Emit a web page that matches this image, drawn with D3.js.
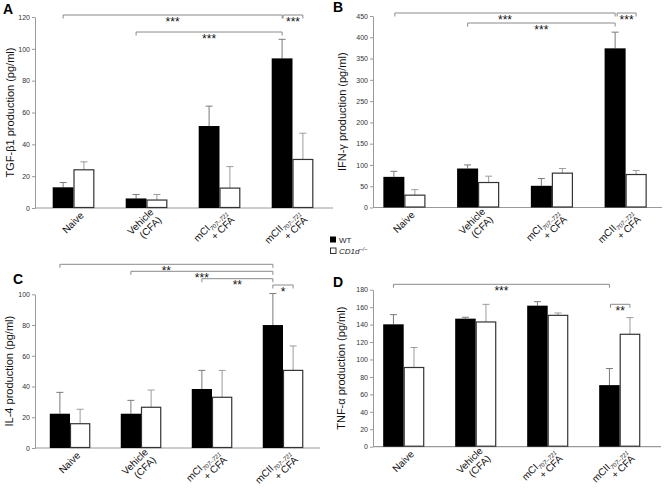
<!DOCTYPE html>
<html><head><meta charset="utf-8">
<script src="https://cdn.jsdelivr.net/npm/d3@7"></script>
<style>
body{margin:0;background:#fff}
svg{font-family:"Liberation Sans",Arial,Helvetica,sans-serif}
</style>
</head><body>
<svg id="chart" width="666" height="494"></svg>
<script>
// ---- data ----
const catMain = ["Naive", "Vehicle", "mCI", "mCII"];
const catSub = ["", "", "707–721", "707–721"];
const catLine2 = ["", "(CFA)", "+ CFA", "+ CFA"];
const seriesNames = ["WT", "CD1d"];

const tgfWT = [13, 6, 51.5, 94];
const tgfWTErr = [3, 2.5, 12.5, 12];
const tgfKO = [24, 5, 12.5, 30.5];
const tgfKOErr = [5, 3.5, 13.5, 16.5];
const tgfTicks = [0, 20, 40, 60, 80, 100, 120];

const ifnWT = [72, 91.6, 51, 374];
const ifnWTErr = [13, 8.4, 17, 38];
const ifnKO = [29, 58.7, 80.7, 77.5];
const ifnKOErr = [13, 14.9, 10.9, 9.5];
const ifnTicks = [0, 50, 100, 150, 200, 250, 300, 350, 400, 450];

const il4WT = [22.3, 22.3, 38.4, 80];
const il4WTErr = [13.9, 8.7, 12.1, 20.5];
const il4KO = [15.8, 26.5, 33, 50.5];
const il4KOErr = [9.4, 11.2, 17.5, 15.9];
const il4Ticks = [0, 20, 40, 60, 80, 100];

const tnfWT = [140.3, 146.8, 161.7, 70.6];
const tnfWTErr = [11.1, 1.6, 4.6, 19];
const tnfKO = [90.8, 143, 150.6, 128.9];
const tnfKOErr = [22.9, 20.2, 2.7, 19.1];
const tnfTicks = [0, 20, 40, 60, 80, 100, 120, 140, 160, 180];

// significance brackets: [group, series] -> [group, series]
const tgfSig = [{a:[0,0], b:[3,0], label:"***"}, {a:[3,0], b:[3,1], label:"***"}, {a:[1,0], b:[3,0], label:"***"}];
const ifnSig = [{a:[0,0], b:[3,0], label:"***"}, {a:[3,0], b:[3,1], label:"***"}, {a:[1,0], b:[3,0], label:"***"}];
const il4Sig = [{a:[0,0], b:[3,0], label:"**"}, {a:[1,0], b:[3,0], label:"***"}, {a:[2,0], b:[3,0], label:"**"}, {a:[3,0], b:[3,1], label:"*"}];
const tnfSig = [{a:[0,0], b:[3,0], label:"***"}, {a:[3,0], b:[3,1], label:"**"}];

// ---- layout ----
const panels = [
  {letter:"A", title:"TGF-β1 production (pg/ml)", wt:tgfWT, wtE:tgfWTErr, ko:tgfKO, koE:tgfKOErr, ticks:tgfTicks, sig:tgfSig,
   L:{axisX:35, xEnd:333, band:[37,329], y0:208, y1:17, titleX:14, letter:[3,14], levels:[15,15,32], inset:[0,1,0]}},
  {letter:"B", title:"IFN-γ production (pg/ml)", wt:ifnWT, wtE:ifnWTErr, ko:ifnKO, koE:ifnKOErr, ticks:ifnTicks, sig:ifnSig,
   L:{axisX:373, xEnd:662, band:[367.5,662.5], y0:207.5, y1:16, titleX:346, letter:[333,12], levels:[13,13,23], inset:[1,2,0]}},
  {letter:"C", title:"IL-4 production (pg/ml)", wt:il4WT, wtE:il4WTErr, ko:il4KO, koE:il4KOErr, ticks:il4Ticks, sig:il4Sig,
   L:{axisX:35, xEnd:320, band:[34.5,318.5], y0:448, y1:294.3, titleX:13, letter:[13,284], levels:[264.3,271.3,278.7,285], inset:[0,0,0,0]}},
  {letter:"D", title:"TNF-α production (pg/ml)", wt:tnfWT, wtE:tnfWTErr, ko:tnfKO, koE:tnfKOErr, ticks:tnfTicks, sig:tnfSig,
   L:{axisX:373, xEnd:661, band:[367.7,655.7], y0:446.7, y1:289.7, titleX:345, letter:[333,287], levels:[284.3,304.3], inset:[0,1]}}
];

const svg = d3.select("#chart");
const AXIS = "#9a9a9a";

panels.forEach(p => {
  const L = p.L;
  const g = svg.append("g");
  const x = d3.scaleBand().domain(d3.range(catMain.length)).range(L.band).paddingInner(0.43).paddingOuter(0.215);
  const xs = d3.scaleBand().domain([0, 1]).range([0, x.bandwidth()]);
  const y = d3.scaleLinear().domain([0, d3.max(p.ticks)]).range([L.y0, L.y1]);

  // y axis
  const ax = g.append("g").attr("transform", `translate(${L.axisX},0)`)
    .call(d3.axisLeft(y).tickValues(p.ticks).tickSize(3).tickSizeOuter(0).tickPadding(2));
  ax.select(".domain").attr("stroke", AXIS);
  ax.selectAll(".tick line").attr("stroke", AXIS);
  ax.selectAll(".tick text").attr("fill", "#333").attr("font-size", 7).attr("font-family", "Liberation Sans, Arial, sans-serif");

  // x axis line
  g.append("line").attr("x1", L.axisX).attr("x2", L.xEnd).attr("y1", L.y0).attr("y2", L.y0)
    .attr("stroke", AXIS).attr("stroke-width", 1.2);

  // bars
  const rows = [];
  catMain.forEach((c, i) => {
    rows.push({i, s:0, v:p.wt[i], e:p.wtE[i]});
    rows.push({i, s:1, v:p.ko[i], e:p.koE[i]});
  });
  const cx = d => x(d.i) + xs(d.s) + xs.bandwidth() / 2;

  // error bars
  g.selectAll(".err").data(rows).join("path")
    .attr("d", d => `M${cx(d)},${y(d.v)}V${y(d.v + d.e)}M${cx(d) - 3.5},${y(d.v + d.e)}H${cx(d) + 3.5}`)
    .attr("stroke", d => d.s === 0 ? "#7a7a7a" : "#9c9c9c").attr("stroke-width", 1).attr("fill", "none");

  g.selectAll(".bar").data(rows).join("rect")
    .attr("x", d => x(d.i) + xs(d.s) + (d.s ? 0.5 : 0))
    .attr("width", d => xs.bandwidth() - (d.s ? 1 : 0))
    .attr("y", d => y(d.v))
    .attr("height", d => L.y0 - y(d.v) - (d.s ? 0.5 : 0))
    .attr("fill", d => d.s === 0 ? "#000" : "#fff")
    .attr("stroke", d => d.s === 0 ? "none" : "#333")
    .attr("stroke-width", 1.2);

  // significance brackets
  p.sig.forEach((s, k) => {
    const xa = x(s.a[0]) + xs(s.a[1]) + xs.bandwidth() / 2 + L.inset[k];
    const xb = x(s.b[0]) + xs(s.b[1]) + xs.bandwidth() / 2;
    const ly = L.levels[k];
    g.append("path").attr("d", `M${xa},${ly + 3.5}V${ly}H${xb}V${ly + 3.5}`)
      .attr("fill", "none").attr("stroke", "#8a8a8a").attr("stroke-width", 1);
    g.append("text").attr("x", (xa + xb) / 2).attr("y", ly + 10.5).attr("text-anchor", "middle")
      .attr("font-size", 12).attr("fill", "#111").text(s.label);
  });

  // category labels
  catMain.forEach((c, i) => {
    const gx = x(i) + x.bandwidth() / 2;
    const lg = g.append("g").attr("transform", `translate(${gx + 11},${L.y0 + 8}) rotate(-45)`);
    const two = catLine2[i] !== "";
    const t1 = lg.append("text").attr("text-anchor", "end").attr("y", two ? -4.6 : 0).attr("font-size", 10).attr("fill", "#111");
    t1.append("tspan").text(c);
    if (catSub[i]) t1.append("tspan").attr("font-size", 6).attr("font-style", "italic").attr("dy", 2.5).text(catSub[i]);
    if (two) lg.append("text").attr("text-anchor", "end").attr("y", 6.4).attr("font-size", 10).attr("fill", "#111").text(catLine2[i]);
  });

  // axis title
  g.append("text").attr("transform", `translate(${L.titleX},${(L.y0 + L.y1) / 2}) rotate(-90)`)
    .attr("text-anchor", "middle").attr("font-size", 11).attr("fill", "#111").text(p.title);

  // panel letter
  g.append("text").attr("x", L.letter[0]).attr("y", L.letter[1]).attr("font-size", 14).attr("font-weight", "bold").text(p.letter);
});

// legend
const lg = svg.append("g");
lg.append("rect").attr("x", 330).attr("y", 236.5).attr("width", 6).attr("height", 6).attr("fill", "#000");
lg.append("text").attr("x", 339).attr("y", 242.5).attr("font-size", 8).attr("fill", "#222").text(seriesNames[0]);
lg.append("rect").attr("x", 330.5).attr("y", 248).attr("width", 5.5).attr("height", 5.5).attr("fill", "#fff").attr("stroke", "#222").attr("stroke-width", 0.9);
const kt = lg.append("text").attr("x", 339).attr("y", 254).attr("font-size", 8).attr("font-style", "italic").attr("fill", "#222");
kt.append("tspan").text(seriesNames[1]);
kt.append("tspan").attr("font-size", 5.5).attr("dy", -3).text("−/−");
</script>
</body></html>
